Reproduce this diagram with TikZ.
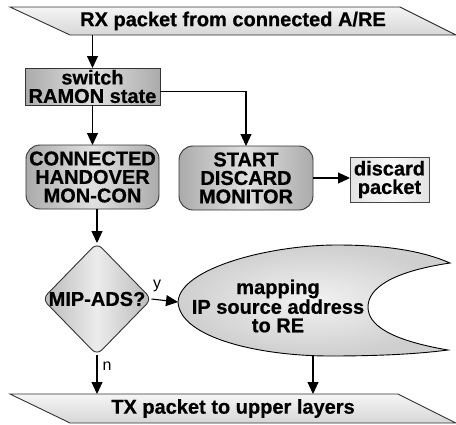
\documentclass[tikz,border=0pt]{standalone}
\usepackage{fontspec}
\setmainfont{Liberation Sans}[BoldFeatures={FakeBold=0.6}]
\usetikzlibrary{shapes.geometric,arrows.meta}
\definecolor{edgegray}{HTML}{333333}
\begin{document}
\begin{tikzpicture}[x=1pt,y=-1pt,
  every node/.style={inner sep=0pt, outer sep=0pt},
  big/.style={font=\fontsize{20}{18.5}\selectfont\bfseries, align=center},
  small/.style={font=\fontsize{16}{16}\selectfont},
  iobox/.style={draw=edgegray, line width=0.9pt, top color=gray!8, bottom color=gray!32},
  iotext/.style={big, minimum height=28pt},
  procbox/.style={rectangle, draw=edgegray, line width=0.9pt,
    left color=gray!66, right color=gray!66, middle color=gray!24},
  roundbox/.style={procbox, rounded corners=14pt},
  plainbox/.style={rectangle, draw=gray!55!black, line width=0.9pt,
    left color=gray!22, right color=gray!22, middle color=gray!5},
  decision/.style={diamond, draw=edgegray, line width=0.9pt, rounded corners=7pt,
    left color=gray!55, right color=gray!55, middle color=gray!15},
  crescent/.style={draw=black, line width=0.9pt, inner color=gray!10, outer color=gray!38},
  arr/.style={-{Triangle[length=12pt,width=11pt]}, line width=1.1pt, black}
]
\useasboundingbox (0,0) rectangle (456,424);

% input parallelogram
\path[iobox] (10,7) -- (400,7) -- (456,35) -- (70,35) -- cycle;
\node[iotext] (rx) at (233,21) {RX packet from connected A/RE};

% processing boxes
\node[procbox, minimum width=135pt, minimum height=37pt, big] (sw) at (92.5,86.5)
  {switch\\RAMON state};
\node[roundbox, minimum width=133pt, minimum height=64pt, big] (con) at (92.5,177)
  {CONNECTED\\HANDOVER\\MON-CON};
\node[roundbox, minimum width=134pt, minimum height=64pt, big] (st) at (246,178)
  {START\\DISCARD\\MONITOR};
\node[plainbox, minimum width=79pt, minimum height=45pt, big] (dp) at (389.5,179.5)
  {discard\\packet};

% decision
\node[decision, minimum width=109pt, minimum height=112pt] (mip) at (97,299) {};
\node[big] (miptext) at (mip) {MIP-ADS?};

% crescent-shaped process
\path[crescent] (178,302)
  .. controls (180,268) and (270,245) .. (337,245)
  .. controls (390,245) and (425,252) .. (450,263)
  .. controls (390,272) and (368,289) .. (368,307)
  .. controls (368,325) and (390,340) .. (448,350)
  .. controls (425,353) and (390,356) .. (330,356)
  .. controls (260,356) and (180,338) .. (178,302) -- cycle;
\coordinate (mapL) at (178,302);
\coordinate (mapB) at (313,355.5);
\node[big] (map) at (278,306) {mapping\\IP source address\\to RE};

% output parallelogram
\path[iobox] (10,394) -- (398,394) -- (456,423) -- (70,423) -- cycle;
\node[iotext, minimum height=29pt] (tx) at (233,408.5) {TX packet to upper layers};

% connectors
\draw[arr] (rx.south -| sw.north) -- (sw.north);
\draw[arr] (sw.south) -- (con.north);
\draw[arr] ([yshift=-5pt]sw.east) -| (st.north);
\draw[arr] (st.east) -- (dp.west |- st.east);
\draw[arr] (con.south -| mip.north) -- (mip.north);
\draw[arr] (mip.east) -- (mapL);
\draw[arr] (mip.south) -- (tx.north -| mip.south);
\draw[arr] (mapB) -- (tx.north -| mapB);

% branch labels
\node[small] (ylab) at (157,286) {y};
\node[small] (nlab) at (107,366) {n};
\end{tikzpicture}
\end{document}
